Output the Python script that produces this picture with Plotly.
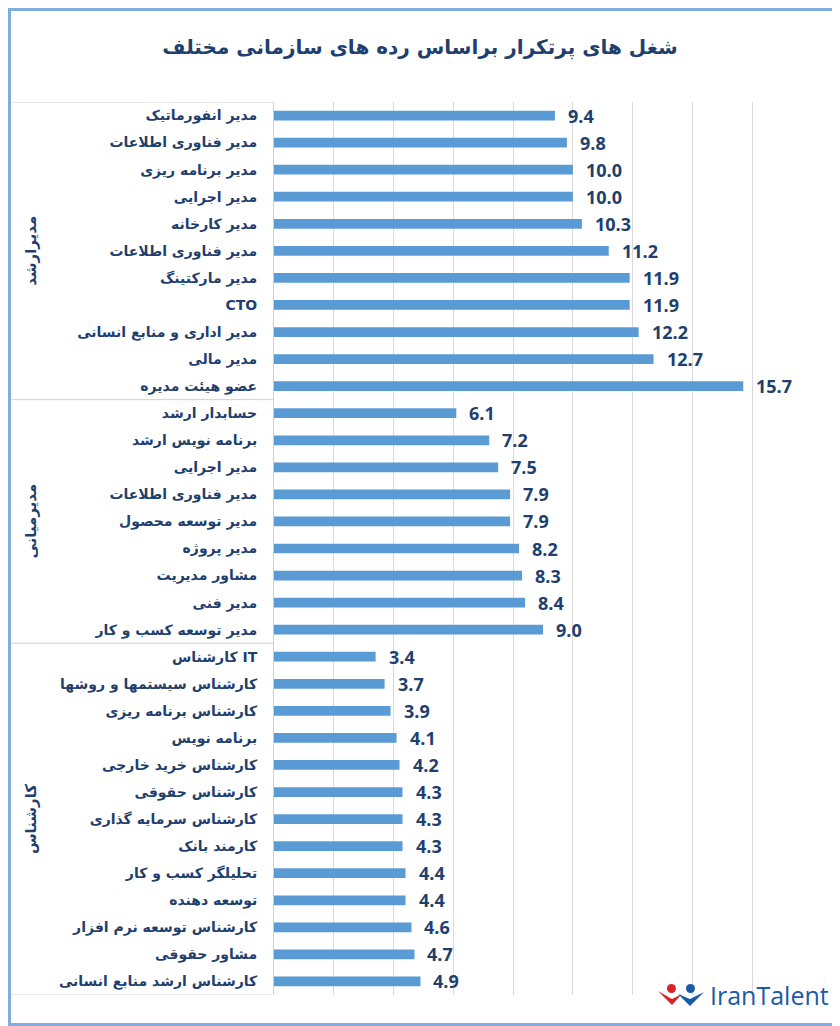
import plotly.graph_objects as go

# data: three organisational levels, top to bottom
groups = ['مدیرارشد', 'مدیرمیانی', 'کارشناس']

senior_jobs = ['مدیر انفورماتیک', 'مدیر فناوری اطلاعات', 'مدیر برنامه ریزی', 'مدیر اجرایی',
               'مدیر کارخانه', 'مدیر فناوری اطلاعات', 'مدیر مارکتینگ', 'CTO',
               'مدیر اداری و منابع انسانی', 'مدیر مالی', 'عضو هیئت مدیره']
senior_vals = [9.4, 9.8, 10.0, 10.0, 10.3, 11.2, 11.9, 11.9, 12.2, 12.7, 15.7]

middle_jobs = ['حسابدار ارشد', 'برنامه نویس ارشد', 'مدیر اجرایی', 'مدیر فناوری اطلاعات',
               'مدیر توسعه محصول', 'مدیر پروژه', 'مشاور مدیریت', 'مدیر فنی',
               'مدیر توسعه کسب و کار']
middle_vals = [6.1, 7.2, 7.5, 7.9, 7.9, 8.2, 8.3, 8.4, 9.0]

expert_jobs = ['کارشناس IT', 'کارشناس سیستمها و روشها', 'کارشناس برنامه ریزی', 'برنامه نویس',
               'کارشناس خرید خارجی', 'کارشناس حقوقی', 'کارشناس سرمایه گذاری', 'کارمند بانک',
               'تحلیلگر کسب و کار', 'توسعه دهنده', 'کارشناس توسعه نرم افزار', 'مشاور حقوقی',
               'کارشناس ارشد منابع انسانی']
expert_vals = [3.4, 3.7, 3.9, 4.1, 4.2, 4.3, 4.3, 4.3, 4.4, 4.4, 4.6, 4.7, 4.9]

jobs = senior_jobs + middle_jobs + expert_jobs
values = senior_vals + middle_vals + expert_vals
sizes = [len(senior_jobs), len(middle_jobs), len(expert_jobs)]
rows = list(range(len(jobs)))

# the page body has an 8px margin, so the figure is 8px smaller than the window
OFF = 8
W, H = 840 - OFF, 1026 - OFF
L, R, T, B = 274 - OFF, 28, 102 - OFF, 31
pw, ph = W - L - R, H - T - B

def px(x):
    # window pixel x -> paper x
    return (x - OFF - L) / pw

def py(y):
    # window pixel y (from top) -> paper y
    return 1 - (y - OFF - T) / ph

navy = '#1F3F6E'
blue = '#5B9BD5'

fig = go.Figure(go.Bar(
    x=values,
    y=rows,
    orientation='h',
    width=0.36,
    marker=dict(color=blue, line=dict(width=0)),
    hoverinfo='x+text',
    hovertext=jobs,
))

# value labels
for r, v in zip(rows, values):
    fig.add_annotation(x=v, y=r, xref='x', yref='y', text=f'{v:.1f}', showarrow=False,
                       xanchor='left', yanchor='middle', xshift=11,
                       font=dict(family='Open Sans', size=18, color=navy, weight='bold'))

# group dividers and group titles
shapes = []
start = 0
for g, n in zip(groups, sizes):
    shapes.append(dict(type='line', xref='paper', yref='y', x0=px(12), x1=0,
                       y0=start - 0.5, y1=start - 0.5, line=dict(color='#D0D0D0', width=1)))
    fig.add_annotation(x=px(31), y=start + (n - 1) / 2, xref='paper', yref='y', text=g,
                       textangle=-90, showarrow=False, xanchor='center', yanchor='middle',
                       font=dict(family='DejaVu Sans', size=15, color=navy, weight='bold'))
    start += n
shapes.append(dict(type='line', xref='paper', yref='y', x0=px(12), x1=0,
                   y0=start - 0.5, y1=start - 0.5, line=dict(color='#D0D0D0', width=1)))

# outer frame
shapes.append(dict(type='rect', xref='paper', yref='paper', x0=px(OFF + 1.5), x1=px(838.5),
                   y0=py(1024.5), y1=py(OFF + 1.5), line=dict(color='#7EAEDD', width=3)))

# IranTalent logo (rough)
shapes += [
    dict(type='circle', xref='paper', yref='paper', x0=px(667), x1=px(676), y0=py(993), y1=py(984),
         fillcolor='#D8232A', line=dict(width=0)),
    dict(type='path', xref='paper', yref='paper',
         path=f'M {px(658)} {py(991)} L {px(672)} {py(1005)} L {px(682)} {py(994)} L {px(672)} {py(999)} Z',
         fillcolor='#D8232A', line=dict(width=0)),
    dict(type='circle', xref='paper', yref='paper', x0=px(686), x1=px(695), y0=py(993), y1=py(984),
         fillcolor='#1B5AA6', line=dict(width=0)),
    dict(type='path', xref='paper', yref='paper',
         path=f'M {px(678)} {py(994)} L {px(690)} {py(1006)} L {px(704)} {py(992)} L {px(690)} {py(999)} Z',
         fillcolor='#1B5AA6', line=dict(width=0)),
]
fig.add_annotation(x=px(708), y=py(995), xref='paper', yref='paper', text='IranTalent',
                   showarrow=False, xanchor='left', yanchor='middle',
                   font=dict(family='Open Sans', size=25, color='#1B5AA6'))

fig.update_layout(
    title=dict(text='شغل های پرتکرار براساس رده های سازمانی مختلف',
               x=(420 - OFF) / W, xref='container', xanchor='center',
               y=1 - (47 - OFF) / H, yref='container', yanchor='middle',
               font=dict(family='DejaVu Sans', size=20, color=navy, weight='bold')),
    width=W,
    height=H,
    margin=dict(l=L, r=R, t=T, b=B),
    paper_bgcolor='white',
    plot_bgcolor='white',
    showlegend=False,
    shapes=shapes,
    xaxis=dict(range=[0, 18], dtick=2, showticklabels=False, showgrid=True,
               gridcolor='#D9D9D9', zeroline=False, fixedrange=True),
    yaxis=dict(range=[len(jobs) - 0.5, -0.5], tickmode='array', tickvals=rows, ticktext=jobs,
               showgrid=False, zeroline=False, showline=True, linecolor='#D0D0D0',
               ticks='', ticklabelstandoff=13,
               tickfont=dict(family='DejaVu Sans', size=14, color=navy, weight='bold')),
)

fig.write_html('out.html')
